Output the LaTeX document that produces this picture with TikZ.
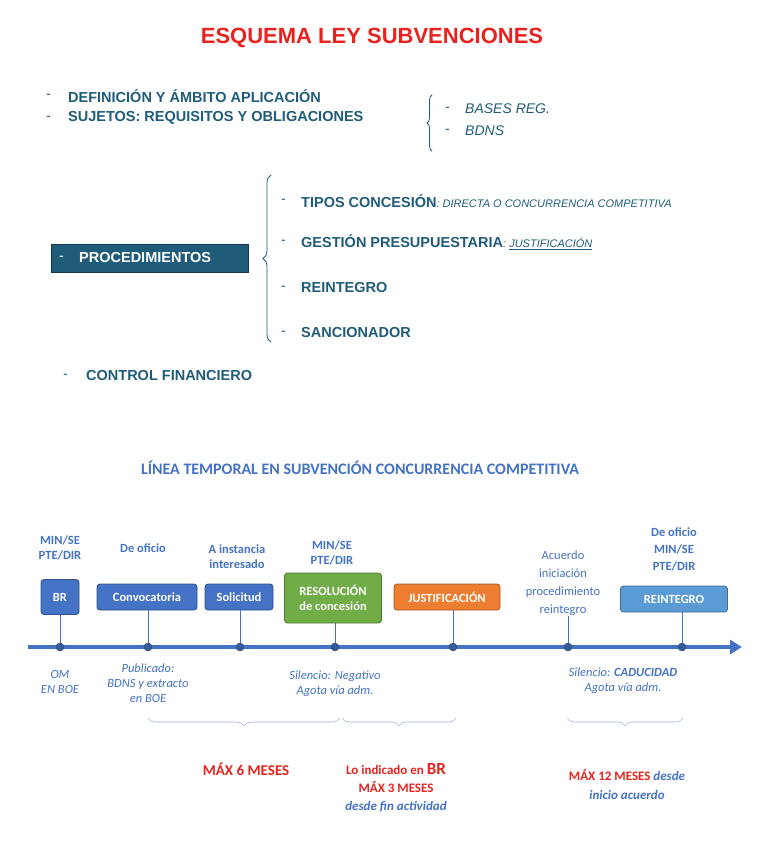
\documentclass[tikz,border=0pt]{standalone}
\usepackage{fontspec}
\setmainfont{Liberation Sans}
\newfontfamily\calfont{Carlito}
\usetikzlibrary{decorations.pathreplacing,arrows.meta}
\definecolor{tteal}{HTML}{1F5C7A}
\definecolor{tred}{HTML}{E8231F}
\definecolor{tblue}{HTML}{4472C4}
\definecolor{tgreen}{HTML}{70AD47}
\definecolor{torange}{HTML}{ED7D31}
\definecolor{tlblue}{HTML}{5B9BD5}
\definecolor{gbr}{HTML}{9DB3D6}
\begin{document}
\begin{tikzpicture}[x=1pt,y=-1pt,
 xtop/.style={anchor=west,text=tteal,font=\fontsize{14.5}{16}\selectfont\bfseries,inner sep=0},
 xdsh/.style={anchor=west,text=tteal,font=\fontsize{14}{16}\selectfont,inner sep=0},
 xsub/.style={anchor=west,text=tteal,font=\fontsize{14}{16}\selectfont\itshape,inner sep=0},
 xtl/.style={text=tblue,font=\calfont\fontsize{12.5}{15}\selectfont\bfseries,align=center,inner sep=0},
 xnote/.style={text=tblue,font=\calfont\fontsize{12.5}{15}\selectfont\itshape,align=center,inner sep=0},
 xbox/.style={draw=#1!70!black,fill=#1,rounded corners=3pt,text=white,font=\calfont\fontsize{12.5}{15}\selectfont\bfseries,align=center,inner sep=0,line width=0.8pt},
 xstem/.style={tblue,line width=0.8pt},
 xdot/.style={circle,fill=tblue!80!black,draw=tblue!60!black,minimum size=8pt,inner sep=0},
 xbr/.style={decorate,decoration={brace,amplitude=5pt},draw=tteal,line width=0.8pt},
 xbb/.style={decorate,decoration={brace,amplitude=8pt},draw=gbr,line width=0.6pt},
 xredt/.style={text=tred,font=\calfont\fontsize{15}{18}\selectfont\bfseries,align=center,inner sep=0}]
\useasboundingbox (0,0) rectangle (768,866);
\node (title) [text=tred,font=\fontsize{22}{26}\selectfont\bfseries] at (372,38) {ESQUEMA LEY SUBVENCIONES};
\node (d1) [xdsh] at (46,96) {-};
\node (t1) [xtop] at (68,96) {DEFINICIÓN Y ÁMBITO APLICACIÓN};
\node (d2) [xdsh] at (46,118) {-};
\node (t2) [xtop] at (68,118) {SUJETOS: REQUISITOS Y OBLIGACIONES};
\draw[xbr] (432,151) -- (432,95);
\node (d3) [xdsh] at (445,109) {-};
\node (s1) [xsub] at (465,109) {BASES REG.};
\node (d4) [xdsh] at (445,131) {-};
\node (s2) [xsub] at (465,131) {BDNS};
\node (proc) [fill=tteal,draw=tteal!60!black,minimum width=197,minimum height=28,anchor=west,inner sep=0] at (51,258) {};
\node (pd) [anchor=west,text=white,font=\fontsize{14}{16}\selectfont,inner sep=0] at (59,258) {-};
\node (pt) [anchor=west,text=white,font=\fontsize{14.5}{16}\selectfont\bfseries,inner sep=0] at (79,258) {PROCEDIMIENTOS};
\draw[xbr,decoration={brace,amplitude=8pt,aspect=0.5}] (271,342) -- (271,175);
\foreach \y/\t in {201/{TIPOS CONCESIÓN\textmd{\itshape\fontsize{11}{12}\selectfont: DIRECTA O CONCURRENCIA COMPETITIVA}},
  242/{GESTIÓN PRESUPUESTARIA\textmd{\itshape\fontsize{11}{12}\selectfont: \underline{JUSTIFICACIÓN}}},
  288/{REINTEGRO},333/{SANCIONADOR}}
 { \node [xdsh] at (281,\y) {-}; \node [xtop] at (301,\y) {\t}; }
\node (d9) [xdsh] at (63,376) {-};
\node (cf) [xtop] at (86,376) {CONTROL FINANCIERO};
\node (lt) [text=tblue,font=\calfont\fontsize{16}{19}\selectfont\bfseries] at (360,468) {LÍNEA TEMPORAL EN SUBVENCIÓN CONCURRENCIA COMPETITIVA};
\coordinate (a0) at (28,647); \coordinate (a1) at (742,647);
\draw[tblue,line width=4pt,-{Triangle[length=12pt,width=14pt]}] (a0) -- (a1);
\node (bBR) [xbox=tblue,minimum width=38,minimum height=35] at (60,597) {BR};
\node (bC) [xbox=tblue,minimum width=100,minimum height=26] at (147,597) {Convocatoria};
\node (bS) [xbox=tblue,minimum width=68,minimum height=26] at (239,597) {Solicitud};
\node (bR) [xbox=tgreen,minimum width=97,minimum height=50] at (333,598) {RESOLUCIÓN\\de concesión};
\node (bJ) [xbox=torange,minimum width=106,minimum height=26] at (447,597) {JUSTIFICACIÓN};
\node (bRe) [xbox=tlblue,minimum width=107,minimum height=26] at (674,599) {REINTEGRO};
\foreach \n/\x in {p1/60,p2/148,p3/240,p4/335,p5/453,p6/568,p7/682}
  \node (\n) [xdot] at (\x,647) {};
\draw[xstem] (bBR) -- (p1); \draw[xstem] (bC.south -| p2) -- (p2);
\draw[xstem] (bS.south -| p3) -- (p3); \draw[xstem] (bR.south -| p4) -- (p4);
\draw[xstem] (bJ.south -| p5) -- (p5); \draw[xstem] (bRe.south -| p7) -- (p7);
\node (acu) [xtl,font=\calfont\fontsize{12.5}{18}\selectfont] at (563,583) {Acuerdo\\iniciación\\procedimiento\\reintegro};
\draw[xstem] (acu.south -| p6) -- (p6);
\node (u1) [xtl] at (60,548) {MIN/SE\\PTE/DIR};
\node (u2) [xtl] at (143,548) {De oficio};
\node (u3) [xtl] at (237,557) {A instancia\\interesado};
\node (u4) [xtl] at (332,553) {MIN/SE\\PTE/DIR};
\node (u7) [xtl,font=\calfont\fontsize{12.5}{17}\selectfont\bfseries] at (674,549) {De oficio\\MIN/SE\\PTE/DIR};
\node (n1) [xnote] at (60,682) {OM\\EN BOE};
\node (n2) [xnote] at (148,683) {Publicado:\\BDNS y extracto\\en BOE};
\node (n4) [xnote] at (335,684) {Silencio: Negativo\\Agota vía adm.};
\node (n6) [xnote] at (623,681) {Silencio: \textbf{CADUCIDAD}\\Agota vía adm.};
\draw[xbb] (340,718) -- (148,718);
\draw[xbb] (456,718) -- (342,718);
\draw[xbb] (683,718) -- (567,718);
\node (m1) [xredt] at (246,769) {MÁX 6 MESES};
\node (m2) [xredt,font=\calfont\fontsize{13}{18}\selectfont\bfseries] at (396,788) {Lo indicado en {\fontsize{17}{18}\selectfont BR}\\MÁX 3 MESES\\\textcolor{tblue}{\itshape desde fin actividad}};
\node (m3) [xredt,font=\calfont\fontsize{13}{19}\selectfont\bfseries] at (627,785) {MÁX 12 MESES \textcolor{tblue}{\itshape desde}\\\textcolor{tblue}{\itshape inicio acuerdo}};
\end{tikzpicture}
\end{document}
